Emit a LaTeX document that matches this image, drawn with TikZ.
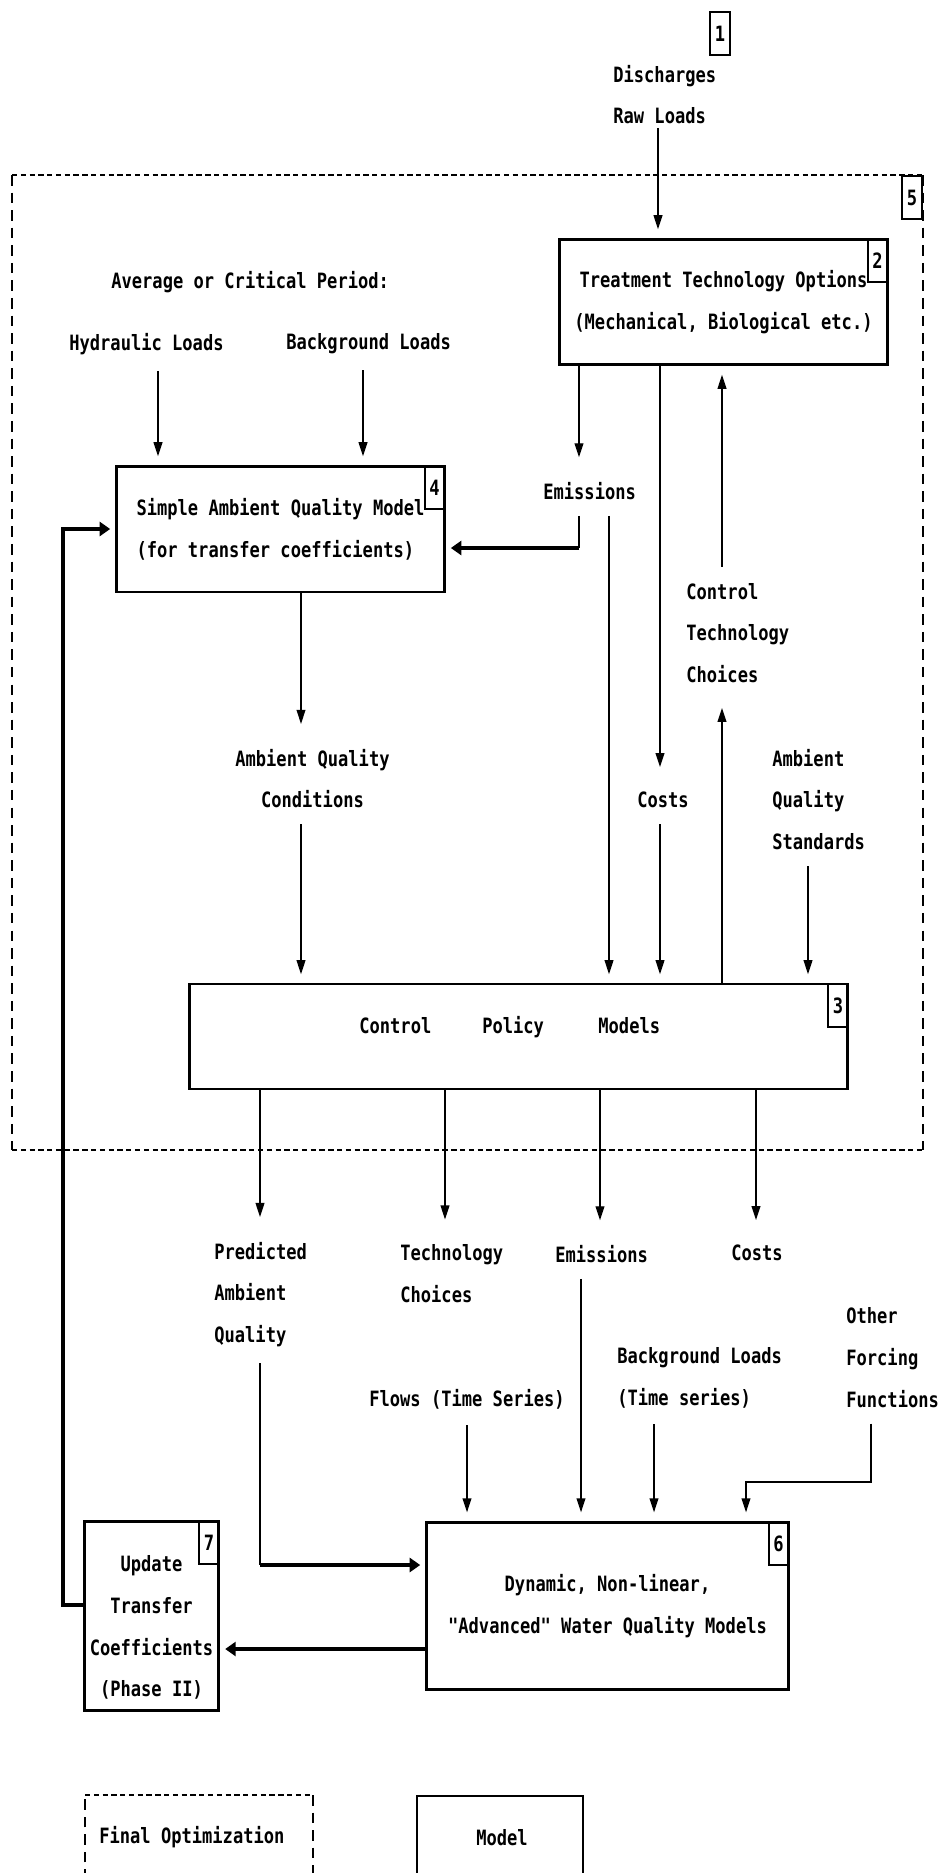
\documentclass[tikz,border=0pt]{standalone}
\usepackage{fontspec}
\newfontfamily\dotfont[FakeStretch=0.81]{DejaVu Sans Mono}
\usetikzlibrary{arrows.meta,positioning}

\begin{document}
\begin{tikzpicture}[
                x=0.02cm, y=-0.02cm,
                every node/.append style={font=\dotfont\bfseries\fontsize{12}{23.8}\selectfont},
                lbl/.style={inner xsep=0pt, inner ysep=9pt, align=left, anchor=west},
                box/.style={draw, line width=1.4pt, inner sep=0pt, align=center},
                tag/.style={draw, line width=1.2pt, minimum width=11.3pt, minimum height=24.4pt, inner sep=0pt, anchor=north east},
                line/.style={line width=0.8pt},
                arr/.style={line width=0.8pt, -{Triangle[length=8pt,width=5pt]}, shorten >=5pt},
                fat/.style={line width=1.8pt, -{Triangle[length=6pt,width=8pt]}, shorten >=3pt},
                hdash/.style={line width=1pt, dash pattern=on 3pt off 2pt},
                vdash/.style={line width=0.9pt, dash pattern=on 6pt off 4pt}
            ]
                \path[use as bounding box, fill=white] (0,0) rectangle (939,1873);
                \clip (0,0) rectangle (939,1873);

                % outer dashed region
                \coordinate (o1) at (12,175);
                \coordinate (o2) at (923,1150);
                \draw[hdash] (o1) -- (o1 -| o2) (o1 |- o2) -- (o2);
                \draw[vdash] (o1) -- (o1 |- o2) (o1 -| o2) -- (o2);
                \node[tag] (t5) at (o1 -| o2) {5};

                % boxes
                \node[tag] (t1) at (731,11) {1};
                \node[box, minimum width=186.5pt, minimum height=71.4pt] (treat) at (723.5,302)
                    {Treatment Technology Options\\(Mechanical, Biological etc.)};
                \node[box, align=left, minimum width=186.5pt, minimum height=71.4pt] (simple) at (280.5,529)
                    {Simple Ambient Quality Model\\(for transfer coefficients)};
                \node[box, minimum width=374.7pt, minimum height=59.5pt] (policy) at (518.5,1036.5) {};
                \node[lbl, inner ysep=0pt] (ptext) at (359,1027) {Control\hspace{29pt}Policy\hspace{31pt}Models};
                \node[box, minimum width=205.8pt, minimum height=95.2pt] (advanced) at (607.5,1606)
                    {Dynamic, Non-linear,\\"Advanced" Water Quality Models};
                \node[box, minimum width=76.5pt, minimum height=107.7pt] (update) at (151.5,1616) {};
                \node[align=center, inner sep=0pt] (utext) at (151.5,1627.5)
                    {Update\\Transfer\\Coefficients\\(Phase II)};
                \node[tag] at (treat.north east) {2};
                \node[tag] at (policy.north east) {3};
                \node[tag] at (simple.north east) {4};
                \node[tag] at (advanced.north east) {6};
                \node[tag] at (update.north east) {7};

                % labels
                \node[lbl, inner ysep=2pt] (disch) at (613,94.5) {Discharges\\Raw Loads};
                \node[lbl] (avg) at (111,282) {Average or Critical Period:};
                \node[lbl] (hyd) at (69,344) {Hydraulic Loads};
                \node[lbl] (bgl) at (286,344) {Background Loads};
                \node[lbl] (em1) at (543,491) {Emissions};
                \node[lbl] (ctc) at (686,633) {Control\\Technology\\Choices};
                \node[lbl, align=center] (aqc) at (235,778.5) {Ambient Quality\\Conditions};
                \node[lbl] (costs1) at (637,800) {Costs};
                \node[lbl] (aqs) at (772,799.5) {Ambient\\Quality\\Standards};
                \node[lbl] (pred) at (214,1294.5) {Predicted\\Ambient\\Quality};
                \node[lbl] (tch) at (400,1273.5) {Technology\\Choices};
                \node[lbl] (em2) at (555,1254) {Emissions};
                \node[lbl] (costs2) at (731,1253) {Costs};
                \node[lbl] (other) at (846,1357.5) {Other\\Forcing\\Functions};
                \node[lbl] (bgts) at (617,1378) {Background Loads\\(Time series)};
                \node[lbl] (flows) at (369,1399) {Flows (Time Series)};

                % connectors, upper part
                \draw[arr] (disch.south -| 658,0) -- (treat.north -| 658,0);
                \draw[arr] (hyd.south -| 158,0) -- (simple.north -| 158,0);
                \draw[arr] (bgl.south -| 363,0) -- (simple.north -| 363,0);
                \draw[arr] (treat.south -| 579,0) -- (em1.north -| 579,0);
                \coordinate (ek) at (579,548);
                \draw[line] (em1.south -| ek) -- (ek);
                \draw[fat] (ek) -- (ek -| simple.east);
                \draw[arr] (em1.south -| 609,0) -- (policy.north -| 609,0);
                \draw[arr] (treat.south -| 660,0) -- (costs1.north -| 660,0);
                \draw[arr] (costs1.south -| 660,0) -- (policy.north -| 660,0);
                \draw[arr] (policy.north -| 722,0) -- (ctc.south -| 722,0);
                \draw[arr] (ctc.north -| 722,0) -- (treat.south -| 722,0);
                \draw[arr] (simple.south -| 301,0) -- (aqc.north -| 301,0);
                \draw[arr] (aqc.south -| 301,0) -- (policy.north -| 301,0);
                \draw[arr] (aqs.south -| 808,0) -- (policy.north -| 808,0);

                % connectors, lower part
                \draw[arr] (policy.south -| 260,0) -- (pred.north -| 260,0);
                \draw[arr] (policy.south -| 445,0) -- (tch.north -| 445,0);
                \draw[arr] (policy.south -| 600,0) -- (em2.north -| 600,0);
                \draw[arr] (policy.south -| 756,0) -- (costs2.north -| 756,0);
                \coordinate (pk) at (260,1565);
                \draw[line] (pred.south -| pk) -- (pk);
                \draw[fat] (pk) -- (pk -| advanced.west);
                \draw[arr] (flows.south -| 467,0) -- (advanced.north -| 467,0);
                \draw[arr] (em2.south -| 581,0) -- (advanced.north -| 581,0);
                \draw[arr] (bgts.south -| 654,0) -- (advanced.north -| 654,0);
                \coordinate (ok1) at (871,1482);
                \coordinate (ok2) at (746,1482);
                \draw[arr] (other.south -| ok1) -- (ok1) -- (ok2) -- (advanced.north -| ok2);
                \coordinate (ak) at (0,1649);
                \draw[fat] (advanced.west |- ak) -- (update.east |- ak);
                \coordinate (lk) at (63,1605);
                \draw[fat] (update.west |- lk) -- (lk) |- (simple.west);

                % legend
                \draw[vdash] (85,1880) -- (85,1795);
                \draw[hdash] (85,1795) -- (313,1795);
                \draw[vdash] (313,1795) -- (313,1880);
                \node[lbl, inner ysep=0pt] (final) at (99,1837) {Final Optimization};
                \draw[line width=1.4pt] (417,1880) |- (583,1796) -- (583,1880);
                \node[lbl, inner ysep=0pt] (model) at (476,1838) {Model};
            \end{tikzpicture}
\end{document}
